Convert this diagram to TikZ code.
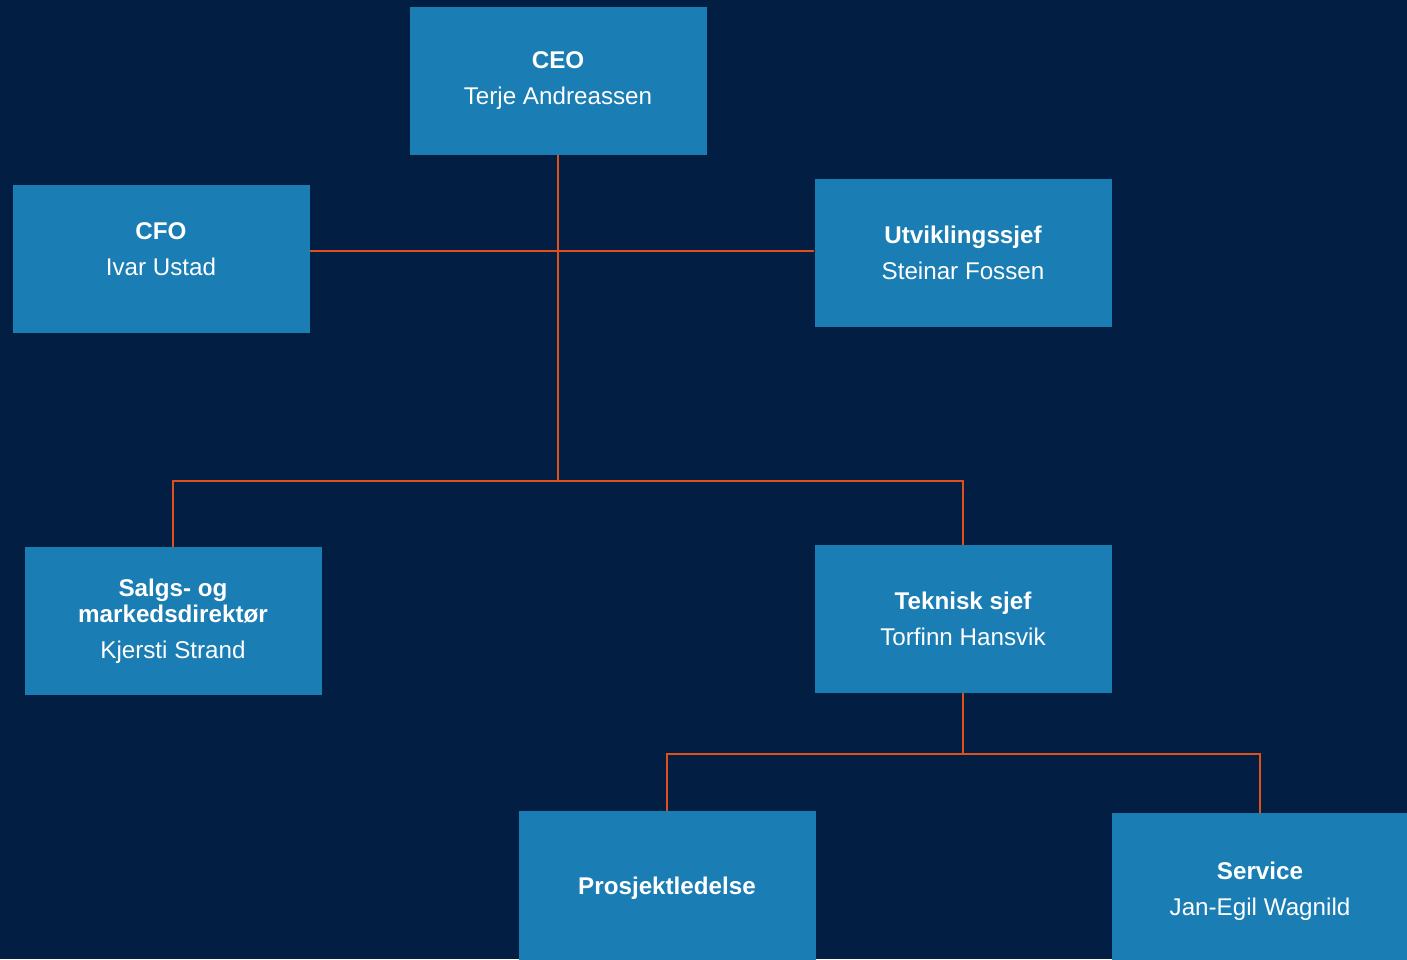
\documentclass[tikz,border=0pt]{standalone}
\usepackage{fontspec}
\setmainfont{Liberation Sans}
\definecolor{bg}{HTML}{021E42}
\definecolor{boxc}{HTML}{1A7DB3}
\definecolor{linec}{HTML}{E0501A}
\begin{document}
\begin{tikzpicture}[x=1pt,y=-1pt,
  box/.style={fill=boxc,minimum width=297pt,minimum height=148pt,inner sep=0pt,text=white,align=center,font=\fontsize{24.2}{26}\selectfont},
  conn/.style={draw=linec,line width=1.5pt}]
\fill[bg] (0,0) rectangle (1407,959);
\useasboundingbox (0,0) rectangle (1407,959);
\node[box] (ceo) at (558,81) {\textbf{CEO}\\[10pt]Terje Andreassen};
\node[box] (cfo) at (161,259) {\raisebox{0pt}[0pt][0pt]{\begin{tabular}{@{}c@{}}\textbf{CFO}\\[10pt]Ivar Ustad\end{tabular}}};
\node[box] (utv) at (963,253) {\textbf{Utviklingssjef}\\[10pt]Steinar Fossen};
\node[box] (salg) at (173,621) {\textbf{Salgs- og}\\\textbf{markedsdirektør}\\[10pt]Kjersti Strand};
\node[box] (tek) at (963,619) {\textbf{Teknisk sjef}\\[10pt]Torfinn Hansvik};
\node[box,minimum height=154pt] (pro) at (667,888) {\textbf{Prosjektledelse}};
\node[box,minimum height=156pt] (ser) at (1260,891) {\textbf{Service}\\[10pt]Jan-Egil Wagnild};
\coordinate (j1) at (558,481);
\coordinate (j2) at (963,754);
\coordinate (h1) at (558,251);
\draw[conn] (ceo.south) -- (j1);
\draw[conn] (cfo.east |- h1) -- (utv.west |- h1);
\draw[conn] (salg.north) -- (salg.north |- j1) -- (tek.north |- j1) -- (tek.north);
\draw[conn] (tek.south) -- (j2);
\draw[conn] (pro.north) -- (pro.north |- j2) -- (ser.north |- j2) -- (ser.north);
\end{tikzpicture}
\end{document}
